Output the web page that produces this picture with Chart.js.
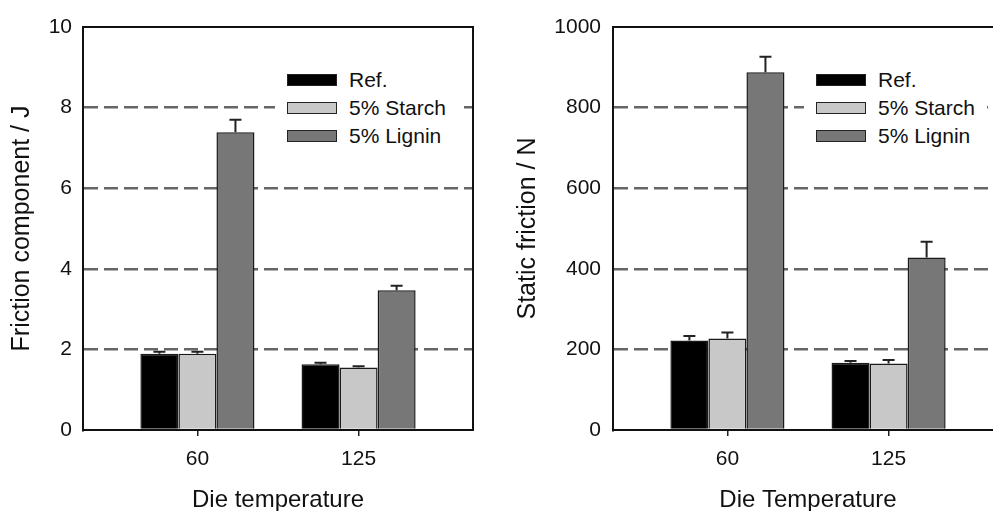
<!DOCTYPE html>
<html>
<head>
<meta charset="utf-8">
<script src="https://cdn.jsdelivr.net/npm/chart.js@4.4.0/dist/chart.umd.min.js"></script>
<style>
  html, body { margin: 0; padding: 0; background: #fff; overflow: hidden; width: 993px; height: 511px; }
  .panel { position: absolute; top: 0; height: 511px; }
  #left { left: 0; width: 496px; }
  #right { left: 500px; width: 510px; }
  .legend { position: absolute; top: 62px; width: 183px; box-sizing: border-box; padding: 4px 0 4px 12px;
            background: #fff; font-family: "Liberation Sans", Arial, sans-serif; font-size: 21px; color: #111; }
  .legend .row { display: flex; align-items: center; height: 28px; }
  .legend .box { width: 48px; height: 10px; border: 1px solid #222; margin-right: 12px; }
</style>
</head>
<body>
<div class="panel" id="left"><canvas id="frictionChart"></canvas></div>
<div class="panel" id="right"><canvas id="staticChart"></canvas></div>
<div class="legend" id="legendLeft" style="left:275px"></div>
<div class="legend" id="legendRight" style="left:804px"></div>
<script>
// categories and series
const categories = ['60', '125'];
const seriesNames = ['Ref.', '5% Starch', '5% Lignin'];
const seriesColors = ['#000000', '#c8c8c8', '#777777'];

// left panel: friction component (J)
const frictionRef = [1.89, 1.63];
const frictionStarch = [1.89, 1.55];
const frictionLignin = [7.39, 3.47];
const frictionRefErr = [0.05, 0.04];
const frictionStarchErr = [0.05, 0.03];
const frictionLigninErr = [0.31, 0.11];
const frictionTicks = [0, 2, 4, 6, 8, 10];

// right panel: static friction (N)
const staticRef = [222, 167];
const staticStarch = [227, 165];
const staticLignin = [888, 428];
const staticRefErr = [11, 4];
const staticStarchErr = [15, 9];
const staticLigninErr = [38, 39];
const staticTicks = [0, 200, 400, 600, 800, 1000];

const FONT = '"Liberation Sans", Arial, sans-serif';

// error bars: one upward whisker with a cap
const errorBars = {
  id: 'errorBars',
  afterDatasetsDraw(chart, args, opts) {
    const ctx = chart.ctx;
    const y = chart.scales.y;
    ctx.save();
    ctx.strokeStyle = '#222';
    ctx.lineWidth = 2;
    chart.data.datasets.forEach((ds, i) => {
      chart.getDatasetMeta(i).data.forEach((bar, j) => {
        const top = y.getPixelForValue(ds.data[j].y + opts.errors[i][j]);
        ctx.beginPath();
        ctx.moveTo(bar.x, bar.y);
        ctx.lineTo(bar.x, top);
        ctx.moveTo(bar.x - 6, top);
        ctx.lineTo(bar.x + 6, top);
        ctx.stroke();
      });
    });
    ctx.restore();
  }
};

// closed box round the plot area
const frame = {
  id: 'frame',
  afterDraw(chart) {
    const {left, top, width, height} = chart.chartArea;
    const ctx = chart.ctx;
    ctx.save();
    ctx.strokeStyle = '#111';
    ctx.lineWidth = 2;
    ctx.strokeRect(left, top, width, height);
    ctx.restore();
  }
};

function buildChart(id, series, errors, ticks, yTitle, xTitle, yWidth, yTitlePad, yTickPad, padRight) {
  const yMax = ticks[ticks.length - 1];
  new Chart(document.getElementById(id), {
    type: 'bar',
    data: {
      datasets: series.map((vals, i) => ({
        label: seriesNames[i],
        data: vals.map((v, j) => ({x: j, y: v})),
        backgroundColor: seriesColors[i],
        borderColor: '#1a1a1a',
        borderWidth: 1.5,
        categoryPercentage: 0.708,
        barPercentage: 1
      }))
    },
    options: {
      responsive: true,
      maintainAspectRatio: false,
      animation: false,
      layout: { padding: { top: 27, right: padRight, left: 0, bottom: 0 } },
      plugins: {
        legend: { display: false },
        tooltip: { enabled: false },
        errorBars: { errors }
      },
      scales: {
        x: {
          type: 'linear',
          offset: false,
          min: -0.71,
          max: categories.length - 1 + 0.71,
          afterBuildTicks: s => { s.ticks = s.ticks.filter(t => Number.isInteger(t.value)); },
          afterFit: s => { s.height = 81; },
          ticks: {
            stepSize: 1,
            padding: 11,
            color: '#111',
            font: { family: FONT, size: 21 },
            callback: v => categories[v]
          },
          grid: { offset: false, drawOnChartArea: false, drawTicks: true, tickLength: 6, color: '#222', lineWidth: 1.5 },
          border: { display: true, color: '#111', width: 2 },
          title: { display: true, text: xTitle, color: '#111', font: { family: FONT, size: 24 }, padding: { top: 0, bottom: -4 } }
        },
        y: {
          min: 0,
          max: yMax,
          afterBuildTicks: s => { s.ticks = ticks.map(v => ({value: v})); },
          afterFit: s => { s.width = yWidth; },
          ticks: { padding: yTickPad, color: '#111', font: { family: FONT, size: 21 }, callback: v => String(v) },
          grid: {
            drawTicks: false,
            lineWidth: 2.5,
            color: c => (c.tick && (c.tick.value === 0 || c.tick.value === yMax)) ? 'rgba(0,0,0,0)' : '#666'
          },
          border: { display: true, color: '#111', width: 2, dash: [14, 6] },
          title: { display: true, text: yTitle, color: '#111', font: { family: FONT, size: 25 }, padding: { top: yTitlePad, bottom: 0 } }
        }
      }
    },
    plugins: [errorBars, frame]
  });
}

function buildLegend(id) {
  const el = document.getElementById(id);
  seriesNames.forEach((name, i) => {
    const row = document.createElement('div');
    row.className = 'row';
    const box = document.createElement('span');
    box.className = 'box';
    box.style.background = seriesColors[i];
    row.appendChild(box);
    row.appendChild(document.createTextNode(name));
    el.appendChild(row);
  });
}

buildChart('frictionChart',
  [frictionRef, frictionStarch, frictionLignin],
  [frictionRefErr, frictionStarchErr, frictionLigninErr],
  frictionTicks, 'Friction component / J', 'Die temperature', 83, 7, 11, 23);

buildChart('staticChart',
  [staticRef, staticStarch, staticLignin],
  [staticRefErr, staticStarchErr, staticLigninErr],
  staticTicks, 'Static friction / N', 'Die Temperature', 113, 13, 12, 7);

buildLegend('legendLeft');
buildLegend('legendRight');
</script>
</body>
</html>
